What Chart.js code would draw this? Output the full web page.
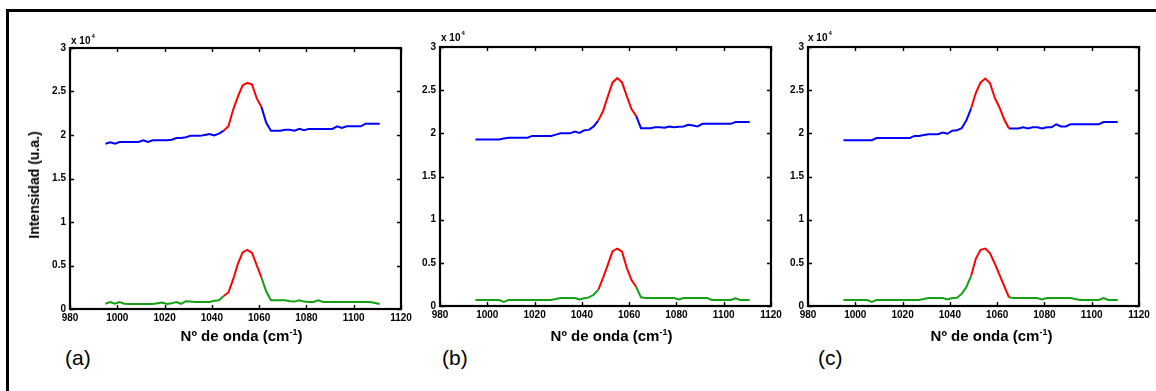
<!DOCTYPE html>
<html>
<head>
<meta charset="utf-8">
<script src="https://cdn.jsdelivr.net/npm/chart.js@4.4.1/dist/chart.umd.min.js"></script>
<style>
  html, body { margin:0; padding:0; background:#fff; width:1156px; height:391px; overflow:hidden; }
  body { position:relative; font-family:'Liberation Sans', Arial, sans-serif; color:#000; }
  .frame { position:absolute; left:6px; top:9px; width:1300px; height:500px; border-left:3px solid #000; border-top:3px solid #000; }
  canvas { position:absolute; }
  .pow { position:absolute; font-weight:bold; font-size:10px; line-height:10px; white-space:nowrap; }
  .pow span { font-size:6px; position:relative; top:-6px; margin-left:1px; }
  .xt { position:absolute; width:240px; margin-left:-120px; text-align:center; font-weight:bold; font-size:15px; line-height:15px; white-space:nowrap; }
  .xt span { font-size:9px; position:relative; top:-6px; }
  .yt { position:absolute; font-weight:bold; font-size:14px; line-height:14px; white-space:nowrap; transform:translate(-50%,-50%) rotate(-90deg); }
  .pl { position:absolute; font-size:21px; line-height:21px; white-space:nowrap; }
</style>
</head>
<body>
<div class="frame"></div>

<canvas id="cA"></canvas>
<canvas id="cB"></canvas>
<canvas id="cC"></canvas>

<div class="pow" style="left:71px; top:36px;">x 10<span>4</span></div>
<div class="pow" style="left:441px; top:33px;">x 10<span>4</span></div>
<div class="pow" style="left:808px; top:33px;">x 10<span>4</span></div>

<div class="yt" style="left:34px; top:185px;">Intensidad (u.a.)</div>

<div class="xt" style="left:241.5px; top:328px;">Nº de onda (cm<span>-1</span>)</div>
<div class="xt" style="left:611.5px; top:328px;">Nº de onda (cm<span>-1</span>)</div>
<div class="xt" style="left:991.5px; top:328px;">Nº de onda (cm<span>-1</span>)</div>

<div class="pl" style="left:65px; top:347px;">(a)</div>
<div class="pl" style="left:442px; top:347px;">(b)</div>
<div class="pl" style="left:818px; top:347px;">(c)</div>

<script>
// ---------- DATA ----------
const waveNumbers = [995,997,999,1001,1003,1005,1007,1009,1011,1013,1015,1017,1019,1021,1023,1025,1027,1029,1031,1033,1035,1037,1039,1041,1043,1045,1047,1049,1051,1053,1055,1057,1059,1061,1063,1065,1067,1069,1071,1073,1075,1077,1079,1081,1083,1085,1087,1089,1091,1093,1095,1097,1099,1101,1103,1105,1107,1109,1111];

const topA = [19000,19150,19000,19200,19200,19200,19200,19200,19400,19200,19400,19400,19400,19400,19450,19650,19650,19750,19900,19900,19900,20000,20100,19950,20150,20500,21000,22900,24400,25700,26000,25800,24200,23200,21400,20500,20500,20500,20600,20600,20500,20700,20550,20700,20700,20700,20700,20700,20700,21000,20800,21000,21000,21000,21000,21300,21300,21300,21300];
const botA = [600,800,600,800,600,570,570,570,570,570,570,650,750,570,650,800,600,900,850,800,800,800,800,950,1000,1500,1900,3400,5200,6500,6800,6450,5000,3600,2000,1000,1000,1000,1000,900,850,1000,850,800,800,1000,800,800,800,800,800,800,800,800,800,800,800,700,570];

const topB = [19300,19300,19300,19300,19300,19300,19400,19500,19500,19500,19500,19500,19700,19700,19700,19700,19700,19850,20000,20000,20000,20200,20050,20350,20400,20800,21500,22600,24300,25900,26400,25900,24300,22800,22000,20600,20600,20600,20700,20700,20650,20800,20700,20750,20800,21000,20900,20800,21100,21100,21100,21100,21100,21100,21100,21300,21300,21300,21300];
const botB = [700,700,700,700,700,700,460,700,700,700,700,700,700,700,700,700,700,800,930,930,930,930,750,900,1000,1300,1900,3300,4800,6350,6650,6300,4400,3000,2200,1000,930,930,930,930,930,930,930,750,930,930,930,930,930,930,700,700,700,700,700,900,700,700,700];

const topC = [19200,19200,19200,19200,19200,19200,19200,19450,19450,19450,19450,19450,19450,19450,19450,19700,19700,19800,19900,19900,19900,20100,19950,20300,20350,20600,21500,22900,24700,25900,26350,25800,24100,23000,21600,20550,20550,20550,20700,20550,20700,20700,20550,20700,20700,21050,20800,20800,21050,21050,21050,21050,21050,21050,21050,21300,21300,21300,21300];
const botC = [700,700,700,700,700,700,460,700,700,700,700,700,700,700,700,700,700,800,930,930,930,930,750,930,950,1400,2200,3500,5500,6500,6650,6100,4900,3600,2300,1000,930,930,930,930,930,930,750,930,930,930,930,930,930,800,700,700,700,700,700,930,700,700,700];

// wavenumber ranges drawn in red (peak region)
const redA = [1045, 1061];
const redB = [1047, 1063];
const redC = [1049, 1065];

const xTickRange = [980, 1120, 20];
const yTickRange = [0, 30000, 5000];
const yScaleFactor = 10000;

// ---------- STYLE ----------
const BLUE = '#0000ff', RED = '#ff0000', GREEN = '#14a014';
Chart.defaults.font.family = "'Liberation Sans', Arial, sans-serif";
Chart.defaults.color = '#000';

const boxPlugin = {
  id: 'matlabBox',
  afterDatasetsDraw(chart) {
    const { ctx, chartArea: a, scales } = chart;
    const x = scales.x, y = scales.y;
    ctx.save();
    ctx.strokeStyle = '#000';
    ctx.lineWidth = 1.4;
    ctx.beginPath();
    x.ticks.forEach(t => {
      const p = Math.round(x.getPixelForValue(t.value)) + 0.5;
      ctx.moveTo(p, a.bottom); ctx.lineTo(p, a.bottom - 4);
      ctx.moveTo(p, a.top); ctx.lineTo(p, a.top + 4);
    });
    y.ticks.forEach(t => {
      const p = Math.round(y.getPixelForValue(t.value)) + 0.5;
      ctx.moveTo(a.left, p); ctx.lineTo(a.left + 4, p);
      ctx.moveTo(a.right, p); ctx.lineTo(a.right - 4, p);
    });
    ctx.stroke();
    ctx.lineWidth = 2.2;
    ctx.strokeRect(a.left, a.top, a.right - a.left, a.bottom - a.top);
    ctx.restore();
  }
};

function makePanel(canvasId, geom, topVals, botVals, red) {
  const padL = 40, padT = 12, padR = 16, padB = 28;
  const cv = document.getElementById(canvasId);
  const w = geom.right - geom.left + padL + padR;
  const h = geom.bottom - geom.top + padT + padB;
  cv.width = w; cv.height = h;
  cv.style.width = w + 'px'; cv.style.height = h + 'px';
  cv.style.left = (geom.left - padL) + 'px';
  cv.style.top = (geom.top - padT) + 'px';

  const seg = base => ({
    borderColor: c => (c.p0.parsed.x >= red[0] && c.p1.parsed.x <= red[1]) ? RED : base
  });
  const pts = vals => waveNumbers.map((xv, i) => ({ x: xv, y: vals[i] }));

  new Chart(cv, {
    type: 'line',
    data: {
      datasets: [
        { data: pts(topVals), borderColor: BLUE, segment: seg(BLUE), borderWidth: 2, pointRadius: 0, tension: 0, fill: false },
        { data: pts(botVals), borderColor: GREEN, segment: seg(GREEN), borderWidth: 2, pointRadius: 0, tension: 0, fill: false }
      ]
    },
    options: {
      responsive: false,
      devicePixelRatio: 1,
      animation: false,
      events: [],
      layout: { padding: { left: 0, top: padT, right: padR, bottom: 0 } },
      plugins: { legend: { display: false }, tooltip: { enabled: false } },
      scales: {
        x: {
          type: 'linear',
          min: xTickRange[0], max: xTickRange[1],
          grid: { display: false, drawTicks: false },
          border: { display: false },
          ticks: { stepSize: xTickRange[2], autoSkip: false, maxRotation: 0, padding: 3,
                   font: { size: 10, weight: 'bold' }, color: '#000',
                   callback: v => String(v) },
          afterFit: s => { s.height = padB; }
        },
        y: {
          min: yTickRange[0], max: yTickRange[1],
          grid: { display: false, drawTicks: false },
          border: { display: false },
          ticks: { stepSize: yTickRange[2], padding: 4,
                   font: { size: 10, weight: 'bold' }, color: '#000',
                   callback: v => String(v / yScaleFactor) },
          afterFit: s => { s.width = padL; }
        }
      }
    },
    plugins: [boxPlugin]
  });
}

makePanel('cA', { left: 70, right: 401, top: 48, bottom: 309 }, topA, botA, redA);
makePanel('cB', { left: 440, right: 771, top: 47, bottom: 306 }, topB, botB, redB);
makePanel('cC', { left: 808, right: 1139, top: 47, bottom: 306 }, topC, botC, redC);
</script>
</body>
</html>
